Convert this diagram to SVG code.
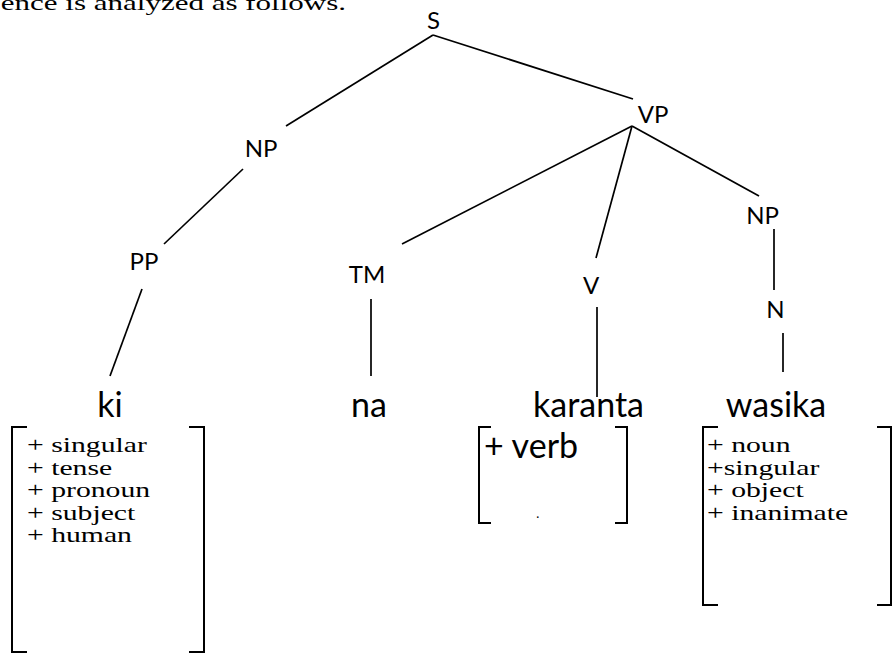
<svg xmlns="http://www.w3.org/2000/svg" width="893" height="655" viewBox="0 0 893 655">
  <style>
    .lbl { font-family: Lato, "Open Sans", sans-serif; font-size: 24px; fill: #000; text-anchor: middle; }
    .word { font-family: Lato, "Open Sans", sans-serif; font-size: 34px; fill: #000; text-anchor: middle; }
    .wordl { font-family: Lato, "Open Sans", sans-serif; font-size: 34px; fill: #000; text-anchor: start; }
    .feat { font-family: "Liberation Serif", "Times New Roman", serif; font-size: 22px; fill: #000; }
    .prose { font-family: "Liberation Serif", "Times New Roman", serif; font-size: 22px; fill: #000; text-anchor: end; }
    .dot { font-family: "Liberation Serif", "Times New Roman", serif; font-size: 14px; fill: #000; }
    .edge { stroke: #000; stroke-width: 1.7; fill: none; stroke-linecap: butt; }
    .brk { stroke: #000; stroke-width: 2; fill: none; }
  </style>
  <rect width="893" height="655" fill="#fff"/>

  <!-- running text above the tree, clipped at the top edge (serif text set wide) -->
  <text class="prose" transform="translate(346,10) scale(1.41,1)">ence is analyzed as follows.</text>

  <!-- tree edges -->
  <g id="connectors">
    <line class="edge" x1="433" y1="35" x2="286" y2="126"/>
    <line class="edge" x1="433" y1="35" x2="633" y2="99"/>
    <line class="edge" x1="243" y1="169" x2="164" y2="244"/>
    <line class="edge" x1="142" y1="289" x2="110" y2="376"/>
    <line class="edge" x1="632" y1="126" x2="402" y2="244"/>
    <line class="edge" x1="632" y1="126" x2="596" y2="258"/>
    <line class="edge" x1="632" y1="126" x2="759" y2="196"/>
    <line class="edge" x1="371" y1="299" x2="371" y2="376"/>
    <line class="edge" x1="597" y1="307" x2="597" y2="397"/>
    <line class="edge" x1="774" y1="229" x2="774" y2="290"/>
    <line class="edge" x1="783" y1="333" x2="783" y2="372"/>
  </g>

  <!-- phrase nodes -->
  <g id="node-S"><text class="lbl" x="433.5" y="29">S</text></g>
  <g id="node-VP"><text class="lbl" x="653" y="123">VP</text></g>
  <g id="node-NP1"><text class="lbl" x="261" y="157">NP</text></g>
  <g id="node-PP"><text class="lbl" x="144" y="270">PP</text></g>
  <g id="node-TM"><text class="lbl" x="367" y="283">TM</text></g>
  <g id="node-V"><text class="lbl" x="591" y="294">V</text></g>
  <g id="node-NP2"><text class="lbl" x="762.5" y="224">NP</text></g>
  <g id="node-N"><text class="lbl" x="775.5" y="318">N</text></g>

  <!-- leaf: ki with feature matrix -->
  <g id="node-ki">
    <text class="word" x="110" y="417">ki</text>
    <path class="brk" d="M27,427 H12 V652 H27 M189,427 H204 V652 H189"/>
    <g transform="translate(27,0) scale(1.35,1)">
      <text class="feat" x="0" y="452">+ singular</text>
      <text class="feat" x="0" y="475">+ tense</text>
      <text class="feat" x="0" y="497">+ pronoun</text>
      <text class="feat" x="0" y="520">+ subject</text>
      <text class="feat" x="0" y="542">+ human</text>
    </g>
  </g>

  <!-- leaf: na -->
  <g id="node-na">
    <text class="word" x="369" y="417">na</text>
  </g>

  <!-- leaf: karanta with feature matrix -->
  <g id="node-karanta">
    <text class="word" x="588.5" y="417">karanta</text>
    <path class="brk" d="M491,427 H479 V523 H491 M615,427 H627 V523 H615"/>
    <text class="wordl" x="484" y="458">+ verb</text>
    <text class="dot" x="536" y="518">.</text>
  </g>

  <!-- leaf: wasika with feature matrix -->
  <g id="node-wasika">
    <text class="word" x="776" y="417">wasika</text>
    <path class="brk" d="M718,427 H703 V605 H718 M877,427 H891 V605 H877"/>
    <g transform="translate(707,0) scale(1.35,1)">
      <text class="feat" x="0" y="452">+ noun</text>
      <text class="feat" x="0" y="475">+singular</text>
      <text class="feat" x="0" y="497">+ object</text>
      <text class="feat" x="0" y="520">+ inanimate</text>
    </g>
  </g>
</svg>
